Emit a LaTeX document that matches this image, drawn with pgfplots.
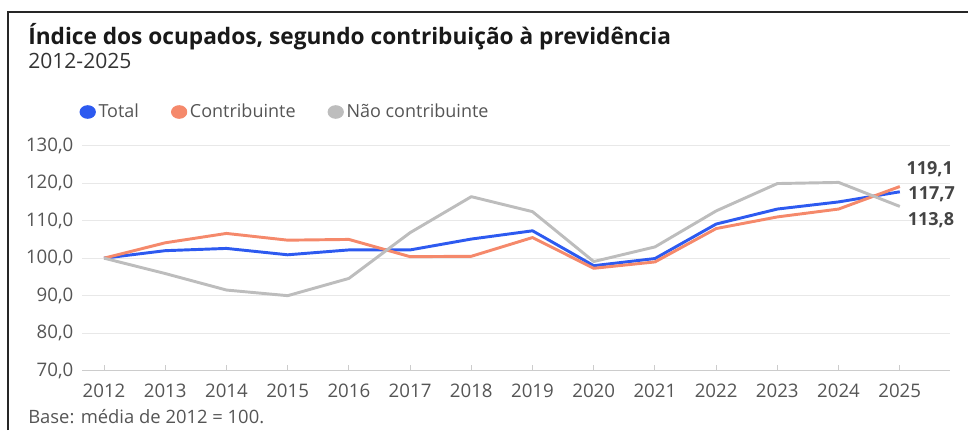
\documentclass[border=0pt]{standalone}
\usepackage{pgfplots}
\pgfplotsset{compat=1.18}
\usepackage{fontspec}
\setmainfont{Open Sans}

\definecolor{cTotal}{HTML}{2D5AF0}
\definecolor{cContr}{HTML}{F5896B}
\definecolor{cNao}{HTML}{BDBDBD}
\definecolor{txt}{HTML}{555555}
\definecolor{lbl}{HTML}{444444}

\begin{document}
\begin{tikzpicture}
\useasboundingbox (0,0) rectangle (726pt,322.5pt);
% frame (top and left only, as cropped)
\draw[line width=1.5pt, black!85] (6pt,0) -- (6pt,313.5pt) -- (726pt,313.5pt);

\node[anchor=base west, inner sep=0, font=\bfseries\fontsize{17}{20}\selectfont, text=black!90]
  at (21pt,289.5pt) {Índice dos ocupados, segundo contribuição à previdência};
\node[anchor=base west, inner sep=0, font=\fontsize{15.8}{18}\selectfont, text=black!80]
  at (21pt,271.5pt) {2012-2025};
\node[anchor=base west, inner sep=0, font=\fontsize{13.8}{16}\selectfont, text=txt]
  at (21pt,5.25pt) {Base: média de 2012 = 100.};

\begin{axis}[
    at={(61.5pt,44.5pt)}, anchor=south west,
    scale only axis,
    width=651pt, height=168.75pt,
    xmin=2011.64, xmax=2025.82,
    ymin=70, ymax=130,
    xtick={2012,...,2025},
    ytick={70,80,...,130},
    /pgf/number format/.cd, use comma, fixed, fixed zerofill, precision=1, 1000 sep={}, assume math mode=true,
    /pgfplots/.cd,
    xticklabel={\pgfmathprintnumber[fixed, precision=0, 1000 sep={}]{\tick}},
    axis x line*=bottom,
    axis y line*=left,
    x axis line style={draw=black!20, line width=0.8pt, -},
    y axis line style={draw=none},
    ymajorgrids, grid style={draw=black!9, line width=0.6pt},
    ytick style={draw=none},
    xtick style={draw=black!20, line width=0.6pt},
    tick align=inside, major tick length=4pt,
    ticklabel style={font=\fontsize{14}{16}\selectfont, text=txt},
    xticklabel style={yshift=-6.5pt},
    yticklabel style={xshift=-3pt},
    clip=false,
    legend style={at={(-5pt,194pt)}, anchor=west, draw=none, fill=none,
      legend columns=-1, font=\fontsize{13.5}{16}\selectfont, text=txt,
      /tikz/every even column/.style={column sep=22pt}},
    legend cell align=left,
]

\addplot[cTotal, line width=2.2pt, line join=round,
  legend image code/.code={\fill[cTotal] (0.25cm,0) ellipse[x radius=5pt, y radius=4pt];}]
coordinates {
(2012,100.0) (2013,102.0) (2014,102.6) (2015,100.9) (2016,102.2) (2017,102.2) (2018,105.1)
(2019,107.3) (2020,98.0) (2021,99.9) (2022,109.1) (2023,113.1) (2024,115.0) (2025,117.7)
};
\addlegendentry{Total}

\addplot[cContr, line width=2.2pt, line join=round,
  legend image code/.code={\fill[cContr] (0.25cm,0) ellipse[x radius=5pt, y radius=4pt];}]
coordinates {
(2012,100.0) (2013,104.1) (2014,106.6) (2015,104.8) (2016,105.0) (2017,100.4) (2018,100.5)
(2019,105.5) (2020,97.3) (2021,99.0) (2022,107.9) (2023,111.0) (2024,113.1) (2025,119.1)
};
\addlegendentry{Contribuinte}

\addplot[cNao, line width=2.2pt, line join=round,
  legend image code/.code={\fill[cNao] (0.25cm,0) ellipse[x radius=5pt, y radius=4pt];}]
coordinates {
(2012,100.0) (2013,95.9) (2014,91.5) (2015,90.0) (2016,94.6) (2017,106.8) (2018,116.4)
(2019,112.4) (2020,99.1) (2021,103.0) (2022,112.6) (2023,119.9) (2024,120.2) (2025,113.8)
};
\addlegendentry{Não contribuinte}

\node[font=\bfseries\fontsize{13.5}{16}\selectfont, text=lbl] at (axis cs:2025.49,123.7) {119,1};
\node[font=\bfseries\fontsize{13.5}{16}\selectfont, text=lbl] at (axis cs:2025.52,117.1) {117,7};
\node[font=\bfseries\fontsize{13.5}{16}\selectfont, text=lbl] at (axis cs:2025.51,110.2) {113,8};
\end{axis}
\end{tikzpicture}
\end{document}
